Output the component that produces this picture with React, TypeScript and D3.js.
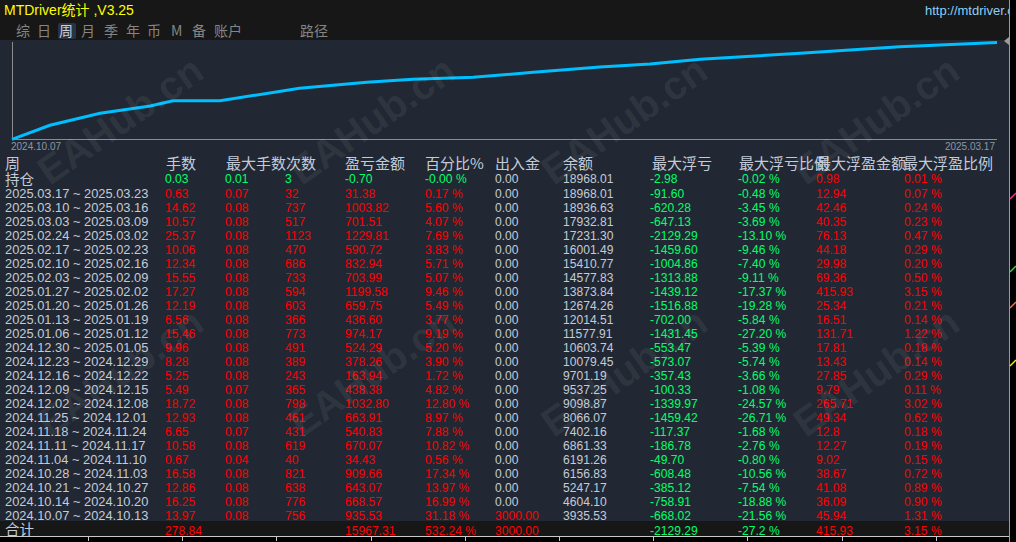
import React, { useRef, useEffect } from "react";
import * as d3 from "d3";

// 每周统计
const weeks = [
    "2025.03.17 ~ 2025.03.23", "2025.03.10 ~ 2025.03.16", "2025.03.03 ~ 2025.03.09", "2025.02.24 ~ 2025.03.02",
    "2025.02.17 ~ 2025.02.23", "2025.02.10 ~ 2025.02.16", "2025.02.03 ~ 2025.02.09", "2025.01.27 ~ 2025.02.02",
    "2025.01.20 ~ 2025.01.26", "2025.01.13 ~ 2025.01.19", "2025.01.06 ~ 2025.01.12", "2024.12.30 ~ 2025.01.05",
    "2024.12.23 ~ 2024.12.29", "2024.12.16 ~ 2024.12.22", "2024.12.09 ~ 2024.12.15", "2024.12.02 ~ 2024.12.08",
    "2024.11.25 ~ 2024.12.01", "2024.11.18 ~ 2024.11.24", "2024.11.11 ~ 2024.11.17", "2024.11.04 ~ 2024.11.10",
    "2024.10.28 ~ 2024.11.03", "2024.10.21 ~ 2024.10.27", "2024.10.14 ~ 2024.10.20", "2024.10.07 ~ 2024.10.13",
];
const lots = [0.63, 14.62, 10.57, 25.37, 10.06, 12.34, 15.55, 17.27, 12.19, 6.56, 15.46, 9.96, 8.28, 5.25, 5.49, 18.72, 12.93, 6.65, 10.58, 0.67, 16.58, 12.86, 16.25, 13.97];
const maxLots = [0.07, 0.08, 0.08, 0.08, 0.08, 0.08, 0.08, 0.08, 0.08, 0.08, 0.08, 0.08, 0.08, 0.08, 0.07, 0.08, 0.08, 0.07, 0.08, 0.04, 0.08, 0.08, 0.08, 0.08];
const trades = [32, 737, 517, 1123, 470, 686, 733, 594, 603, 366, 773, 491, 389, 243, 365, 798, 461, 431, 619, 40, 821, 638, 776, 756];
const profit = [31.38, 1003.82, 701.51, 1229.81, 590.72, 832.94, 703.99, 1199.58, 659.75, 436.6, 974.17, 524.29, 378.26, 163.94, 438.38, 1032.8, 663.91, 540.83, 670.07, 34.43, 909.66, 643.07, 668.57, 935.53];
const profitPct = [0.17, 5.6, 4.07, 7.69, 3.83, 5.71, 5.07, 9.46, 5.49, 3.77, 9.19, 5.2, 3.9, 1.72, 4.82, 12.8, 8.97, 7.88, 10.82, 0.56, 17.34, 13.97, 16.99, 31.18];
const deposit = [0, 0, 0, 0, 0, 0, 0, 0, 0, 0, 0, 0, 0, 0, 0, 0, 0, 0, 0, 0, 0, 0, 0, 3000];
const balance = [18968.01, 18936.63, 17932.81, 17231.3, 16001.49, 15410.77, 14577.83, 13873.84, 12674.26, 12014.51, 11577.91, 10603.74, 10079.45, 9701.19, 9537.25, 9098.87, 8066.07, 7402.16, 6861.33, 6191.26, 6156.83, 5247.17, 4604.1, 3935.53];
const maxDD = [-91.6, -620.28, -647.13, -2129.29, -1459.6, -1004.86, -1313.88, -1439.12, -1516.88, -702.0, -1431.45, -553.47, -573.07, -357.43, -100.33, -1339.97, -1459.42, -117.37, -186.78, -49.7, -608.48, -385.12, -758.91, -668.02];
const maxDDPct = [-0.48, -3.45, -3.69, -13.1, -9.46, -7.4, -9.11, -17.37, -19.28, -5.84, -27.2, -5.39, -5.74, -3.66, -1.08, -24.57, -26.71, -1.68, -2.76, -0.8, -10.56, -7.54, -18.88, -21.56];
const maxRunup = ["12.94", "42.46", "40.35", "76.13", "44.18", "29.98", "69.36", "415.93", "25.34", "16.51", "131.71", "17.81", "13.43", "27.85", "9.79", "265.71", "49.34", "12.8", "12.27", "9.02", "38.67", "41.08", "36.09", "45.94"];
const maxRunupPct = [0.07, 0.24, 0.23, 0.47, 0.29, 0.2, 0.5, 3.15, 0.21, 0.14, 1.22, 0.18, 0.14, 0.29, 0.11, 3.02, 0.62, 0.18, 0.19, 0.15, 0.72, 0.89, 0.9, 1.31];

// 持仓 / 合计
const openRow = ["0.03", "0.01", "3", "-0.70", "-0.00 %", "0.00", "18968.01", "-2.98", "-0.02 %", "0.98", "0.01 %"];
const totalRow = ["278.84", "", "", "15967.31", "532.24 %", "3000.00", "", "-2129.29", "-27.2 %", "415.93", "3.15 %"];

// 净值曲线 (天数, 净值)
const curveDays = [0, 6.2, 14.4, 22.6, 26.3, 34, 47, 58, 65.5, 75.4, 85.2, 96.1, 104.3, 112.5, 128.8, 145.1, 161];
const curveEquity = [3114, 5395, 7350, 8540, 9403, 9403, 11424, 12402, 12890, 13216, 14031, 14895, 15383, 16149, 17127, 18202, 18887];

const headers = ["周", "手数", "最大手数", "次数", "盈亏金额", "百分比%", "出入金", "余额", "最大浮亏", "最大浮亏比例", "最大浮盈金额", "最大浮盈比例"];
const tabs = ["综", "日", "周", "月", "季", "年", "币", "M", "备", "账户", "路径"];

const LIGHT = "#c4cbd8";
const RED = "#ff0000";
const GREEN = "#00ff6a";
const CJK = "'Noto Sans CJK SC', sans-serif";
const NUM = "'Liberation Sans', Arial, sans-serif";

const App = () => {
    const svgRef = useRef<SVGSVGElement>(null);

    useEffect(() => {
        if (!svgRef.current) return;
        const svg = d3.select(svgRef.current);
        svg.selectAll("*").remove();

        const W = 1016, H = 542, panelR = 1009;

        // 背景
        svg.append("rect").attr("width", W).attr("height", H).attr("fill", "#000");
        svg.append("rect").attr("width", panelR).attr("height", 40).attr("fill", "#171717");
        svg.append("rect").attr("y", 40).attr("width", panelR).attr("height", 481).attr("fill", "#212833");
        svg.append("rect").attr("y", 521).attr("width", panelR).attr("height", 15).attr("fill", "#171717");

        svg.append("defs").append("clipPath").attr("id", "panelClip")
            .append("rect").attr("width", panelR).attr("height", H);

        // 标题
        svg.append("text").attr("x", 4).attr("y", 15)
            .style("font-family", `${NUM}, ${CJK}`).style("font-size", "14px").style("fill", "#ffff00")
            .text("MTDriver统计 ,V3.25");
        svg.append("text").attr("x", 925).attr("y", 15).attr("clip-path", "url(#panelClip)")
            .style("font-family", NUM).style("font-size", "13px").style("fill", "#8ccff5")
            .text("http://mtdriver.com");

        // 标签页
        const tabX = [16, 37, 59, 81, 104, 126, 147, 171, 192, 214, 300];
        svg.append("rect").attr("x", 58).attr("y", 23).attr("width", 18).attr("height", 16).attr("rx", 2).attr("fill", "#2b3342");
        svg.selectAll(".tab").data(tabs).enter().append("text")
            .attr("x", (_, i) => tabX[i]).attr("y", 36)
            .style("font-family", CJK).style("font-size", "14px")
            .style("fill", (d) => (d === "周" ? "#c8d0dc" : "#858585"))
            .text((d) => d);

        // 净值曲线
        const x = d3.scaleLinear().domain([0, 161]).range([12, 997]);
        const y = d3.scaleLinear().domain([3000, 18968]).range([140, 42]);

        svg.append("line").attr("x1", 12.5).attr("x2", 12.5).attr("y1", 42).attr("y2", 139.5)
            .attr("stroke", "#8c8c8c");
        svg.append("line").attr("x1", 12).attr("x2", 997).attr("y1", 139.5).attr("y2", 139.5)
            .attr("stroke", "#8c8c8c");

        const line = d3.line<number>()
            .x((_, i) => x(curveDays[i]))
            .y((d) => y(d));
        svg.append("path").datum(curveEquity).attr("d", line)
            .attr("fill", "none").attr("stroke", "#00bfff").attr("stroke-width", 3);

        svg.append("path").attr("d", "M1009,37 L1004,41 L1009,45 Z").attr("fill", "#9a9a9a");

        svg.append("text").attr("x", 11).attr("y", 150)
            .style("font-family", NUM).style("font-size", "10px").style("fill", "#8d96a4")
            .text("2024.10.07");
        svg.append("text").attr("x", 995).attr("y", 150).attr("text-anchor", "end")
            .style("font-family", NUM).style("font-size", "10px").style("fill", "#8d96a4")
            .text("2025.03.17");

        // 表格
        const colX = [5, 165, 225, 285, 345, 425, 495, 563, 650, 738, 816, 904];
        const headX = [5, 166, 226, 286, 345, 425, 495, 563, 652, 739, 816, 903];
        const rowY = d3.scaleLinear().domain([0, weeks.length - 1]).range([192.7, 514.9]);

        svg.selectAll(".head").data(headers).enter().append("text")
            .attr("x", (_, i) => headX[i]).attr("y", 168.5)
            .style("font-family", CJK).style("font-size", "15px").style("fill", LIGHT)
            .text((d) => d);

        // 窄体数字
        const num = (tx: number, ty: number, s: string, c: string, sx = 0.93) =>
            svg.append("text").attr("transform", `translate(${tx},${ty}) scale(${sx},1)`)
                .style("font-family", NUM).style("font-size", "13px").style("fill", c).text(s);

        // 行标签
        svg.append("text").attr("x", 5).attr("y", 184.5)
            .style("font-family", CJK).style("font-size", "14.5px").style("fill", LIGHT).text("持仓");
        svg.append("text").attr("x", 5).attr("y", 535)
            .style("font-family", CJK).style("font-size", "14.5px").style("fill", LIGHT).text("合计");

        const openColors = [GREEN, GREEN, GREEN, GREEN, GREEN, LIGHT, LIGHT, GREEN, GREEN, RED, RED];
        openRow.forEach((s, j) => num(colX[j + 1], 183.3, s, openColors[j]));

        const totalColors = [RED, RED, RED, RED, RED, RED, LIGHT, GREEN, GREEN, RED, RED];
        totalRow.forEach((s, j) => num(colX[j + 1], 535, s, totalColors[j]));

        const f2 = (v: number) => v.toFixed(2);
        weeks.forEach((wk, i) => {
            const by = rowY(i) + 5;
            const cells: [string, string][] = [
                [f2(lots[i]), RED],
                [f2(maxLots[i]), RED],
                [String(trades[i]), RED],
                [f2(profit[i]), RED],
                [`${f2(profitPct[i])} %`, RED],
                [f2(deposit[i]), deposit[i] > 0 ? RED : LIGHT],
                [f2(balance[i]), LIGHT],
                [f2(maxDD[i]), GREEN],
                [`${f2(maxDDPct[i])} %`, GREEN],
                [maxRunup[i], RED],
                [`${f2(maxRunupPct[i])} %`, RED],
            ];
            num(5, by, wk, LIGHT, 0.99);
            cells.forEach(([s, c], j) => num(colX[j + 1], by, s, c));
        });

        // 水印
        const wmX = [120, 372, 624, 876];
        const wmY = [120, 372];
        wmY.forEach((wy) => wmX.forEach((wx) => {
            svg.append("text").attr("transform", `translate(${wx},${wy}) rotate(-35)`)
                .attr("text-anchor", "middle").attr("dy", "0.35em")
                .style("font-family", NUM).style("font-size", "40px").style("font-weight", "bold")
                .style("fill", "#ffffff").style("fill-opacity", 0.07)
                .text("EAHub.cn");
        }));

        // 底部时间轴
        svg.append("line").attr("x1", 0).attr("x2", panelR).attr("y1", 536.5).attr("y2", 536.5)
            .attr("stroke", "#c8c8c8");
        const ticks = d3.range(88, 1000, 94.2);
        svg.selectAll(".tk").data(ticks).enter().append("line")
            .attr("x1", (d) => Math.round(d) + 0.5).attr("x2", (d) => Math.round(d) + 0.5)
            .attr("y1", 536).attr("y2", 541).attr("stroke", "#c8c8c8");

        // 右侧边框
        svg.append("line").attr("x1", panelR + 0.5).attr("x2", panelR + 0.5).attr("y1", 0).attr("y2", H)
            .attr("stroke", "#9a9a9a");
        const marks: [number, string][] = [[195, "#ff2d9a"], [268, "#33dd33"], [304, "#ff6e50"], [362, "#ffee00"]];
        marks.forEach(([my, c]) => {
            svg.append("line").attr("x1", 1010).attr("x2", 1016).attr("y1", my + 4).attr("y2", my - 2)
                .attr("stroke", c).attr("stroke-width", 1.5);
        });
    }, []);

    return (
        <svg
            ref={svgRef}
            width={1016}
            height={542}
            style={{ position: "fixed", left: 0, top: 0, display: "block" }}
        />
    );
};

export default App;
